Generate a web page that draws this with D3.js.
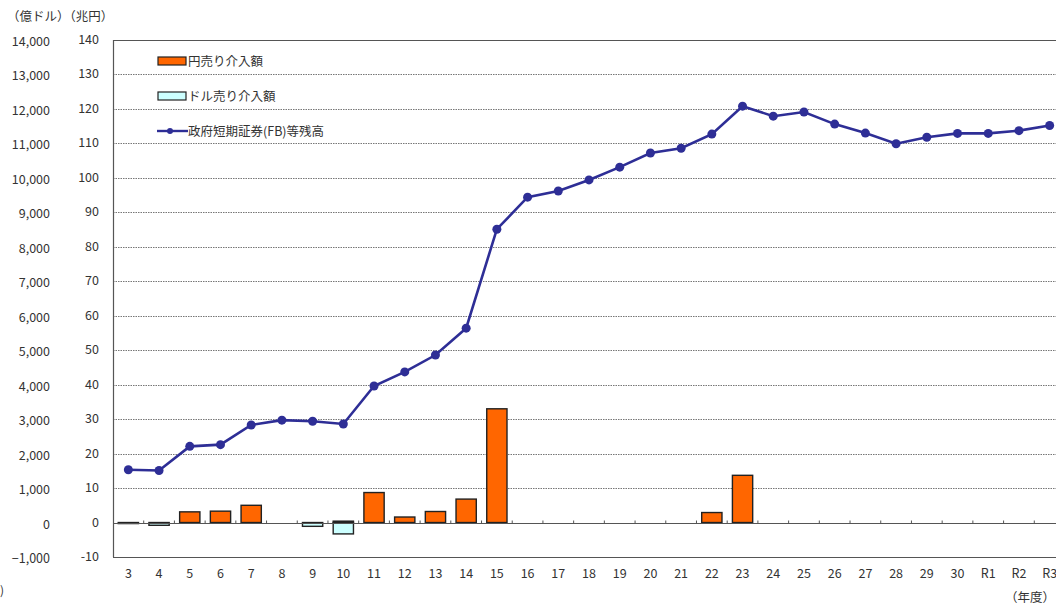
<!DOCTYPE html>
<html>
<head>
<meta charset="utf-8">
<script src="https://cdn.jsdelivr.net/npm/d3@7"></script>
<style>
  body { margin: 0; background: #fff; }
  svg { display: block; font-family: "Noto Sans CJK JP", "Noto Sans", sans-serif; }
</style>
</head>
<body>
<div id="graphique"></div>
<script>
// 年度
const categories = ["3", "4", "5", "6", "7", "8", "9", "10", "11", "12", "13", "14", "15", "16", "17",
    "18", "19", "20", "21", "22", "23", "24", "25", "26", "27", "28", "29", "30", "R1", "R2", "R3"];

// 円売り介入額 (兆円)
const yenSell = [0, 0, 3.1, 3.3, 5.0, 0, 0, 0.4, 8.7, 1.6, 3.2, 6.8, 33.0, 0, 0,
    0, 0, 0, 0, 2.9, 13.7, 0, 0, 0, 0, 0, 0, 0, 0, 0, 0];

// ドル売り介入額 (兆円)
const dollarSell = [-0.3, -0.8, 0, 0, 0, 0, -1.1, -3.3, 0, 0, 0, 0, 0, 0, 0,
    0, 0, 0, 0, 0, 0, 0, 0, 0, 0, 0, 0, 0, 0, 0, 0];

// 政府短期証券(FB)等残高 (兆円)
const fbBalance = [15.3, 15.1, 22.1, 22.6, 28.3, 29.7, 29.4, 28.6, 39.6, 43.7, 48.6, 56.4, 85.1, 94.4, 96.2,
    99.4, 103.1, 107.2, 108.6, 112.7, 120.8, 117.9, 119.1, 115.6, 113.0, 109.9, 111.8, 112.9, 112.9, 113.7, 115.2];

const yenTicks = d3.range(-10, 141, 10);

const legendLabels = ["円売り介入額", "ドル売り介入額", "政府短期証券(FB)等残高"];

function AffichageGraph() {
    const width = 1056, height = 605;
    const left = 113, right = 1065, top = 40, bottom = 557;
    const textColor = "#333";
    const lineColor = "#2e2e96";

    const svg = d3.select("#graphique").append("svg")
        .attr("width", width)
        .attr("height", height);

    const xScale = d3.scaleBand()
        .domain(categories)
        .range([left, right])
        .padding(0);
    const barWidth = xScale.bandwidth() * 0.66;
    const cx = c => xScale(c) + xScale.bandwidth() / 2;

    const yScale = d3.scaleLinear()
        .domain([-10, 140])
        .range([bottom, top]);

    // grille pointillée
    svg.append("g")
        .selectAll("line")
        .data(yenTicks.filter(d => d !== 140 && d !== -10 && d !== 0))
        .enter()
        .append("line")
        .attr("x1", left)
        .attr("x2", width)
        .attr("y1", d => Math.round(yScale(d)) + 0.5)
        .attr("y2", d => Math.round(yScale(d)) + 0.5)
        .style("stroke", "#777")
        .style("stroke-width", 1)
        .style("stroke-dasharray", "1.5,1");

    // cadre haut / bas / gauche
    [140, -10].forEach(v => {
        svg.append("line")
            .attr("x1", left).attr("x2", width)
            .attr("y1", Math.round(yScale(v)) + 0.5)
            .attr("y2", Math.round(yScale(v)) + 0.5)
            .style("stroke", "#555")
            .style("stroke-width", 1);
    });
    svg.append("line")
        .attr("x1", left + 0.5).attr("x2", left + 0.5)
        .attr("y1", yScale(140)).attr("y2", yScale(-10))
        .style("stroke", "#555")
        .style("stroke-width", 1.2);

    // axe yen (兆円)
    svg.append("g")
        .selectAll("text")
        .data(yenTicks)
        .enter()
        .append("text")
        .attr("x", 99)
        .attr("y", d => yScale(d) + 4)
        .attr("text-anchor", "end")
        .style("fill", textColor)
        .style("font-size", "12.5px")
        .text(d => d);

    // axe dollar (億ドル)
    svg.append("g")
        .selectAll("text")
        .data(yenTicks)
        .enter()
        .append("text")
        .attr("x", 50)
        .attr("y", d => yScale(d) + 6)
        .attr("text-anchor", "end")
        .style("fill", textColor)
        .style("font-size", "12.5px")
        .text(d => d3.format(",")(d * 100));

    svg.append("text")
        .attr("x", 7).attr("y", 21)
        .style("fill", textColor)
        .style("font-size", "12.5px")
        .text("（億ドル）（兆円）");

    // barres 円売り
    const yenData = categories.map((c, i) => ({ c, v: yenSell[i] })).filter(d => d.v !== 0);
    svg.selectAll(".bar-yen")
        .data(yenData)
        .enter()
        .append("rect")
        .attr("class", "bar-yen")
        .attr("x", d => cx(d.c) - barWidth / 2)
        .attr("y", d => yScale(d.v))
        .attr("width", barWidth)
        .attr("height", d => yScale(0) - yScale(d.v))
        .style("fill", "#ff6600")
        .style("stroke", "#222")
        .style("stroke-width", 1.4);

    // barres ドル売り
    const dollarData = categories.map((c, i) => ({ c, v: dollarSell[i] })).filter(d => d.v !== 0);
    svg.selectAll(".bar-dollar")
        .data(dollarData)
        .enter()
        .append("rect")
        .attr("class", "bar-dollar")
        .attr("x", d => cx(d.c) - barWidth / 2)
        .attr("y", yScale(0))
        .attr("width", barWidth)
        .attr("height", d => yScale(d.v) - yScale(0))
        .style("fill", "#ccffff")
        .style("stroke", "#222")
        .style("stroke-width", 1.4);

    // trait zéro + petits repères
    const y0 = Math.round(yScale(0)) + 0.5;
    svg.append("line")
        .attr("x1", left).attr("x2", width)
        .attr("y1", y0).attr("y2", y0)
        .style("stroke", "#555")
        .style("stroke-width", 1);
    svg.append("g")
        .selectAll("line")
        .data(categories)
        .enter()
        .append("line")
        .attr("x1", d => xScale(d) + xScale.bandwidth())
        .attr("x2", d => xScale(d) + xScale.bandwidth())
        .attr("y1", y0 - 3)
        .attr("y2", y0)
        .style("stroke", "#555")
        .style("stroke-width", 1);

    // ligne FB
    const line = d3.line()
        .x((d, i) => cx(categories[i]))
        .y(d => yScale(d));
    svg.append("path")
        .datum(fbBalance)
        .attr("d", line)
        .style("fill", "none")
        .style("stroke", lineColor)
        .style("stroke-width", 2.6);
    svg.selectAll(".dot")
        .data(fbBalance)
        .enter()
        .append("circle")
        .attr("class", "dot")
        .attr("cx", (d, i) => cx(categories[i]))
        .attr("cy", d => yScale(d))
        .attr("r", 4.5)
        .style("fill", lineColor);

    // étiquettes des années
    svg.append("g")
        .selectAll("text")
        .data(categories)
        .enter()
        .append("text")
        .attr("x", d => cx(d))
        .attr("y", 578)
        .attr("text-anchor", "middle")
        .style("fill", textColor)
        .style("font-size", "12.5px")
        .text(d => d);

    svg.append("text")
        .attr("x", 1055).attr("y", 602)
        .attr("text-anchor", "end")
        .style("fill", textColor)
        .style("font-size", "12.5px")
        .text("（年度）");

    svg.append("text")
        .attr("x", 0).attr("y", 595)
        .style("fill", textColor)
        .style("font-size", "12px")
        .text(")");

    // légende
    const legend = svg.append("g");
    const legendY = [61, 96, 131];
    legend.append("rect")
        .attr("x", 158).attr("y", legendY[0] - 4)
        .attr("width", 28).attr("height", 8)
        .style("fill", "#ff6600").style("stroke", "#222").style("stroke-width", 1.2);
    legend.append("rect")
        .attr("x", 158).attr("y", legendY[1] - 4)
        .attr("width", 28).attr("height", 8)
        .style("fill", "#ccffff").style("stroke", "#222").style("stroke-width", 1.2);
    legend.append("line")
        .attr("x1", 157).attr("x2", 188)
        .attr("y1", legendY[2]).attr("y2", legendY[2])
        .style("stroke", lineColor).style("stroke-width", 2.4);
    legend.append("circle")
        .attr("cx", 170).attr("cy", legendY[2]).attr("r", 3)
        .style("fill", lineColor);
    legend.selectAll("text")
        .data(legendLabels)
        .enter()
        .append("text")
        .attr("x", 188)
        .attr("y", (d, i) => legendY[i] + 5)
        .style("fill", textColor)
        .style("font-size", "12.5px")
        .text(d => d);
}

AffichageGraph();
</script>
</body>
</html>
